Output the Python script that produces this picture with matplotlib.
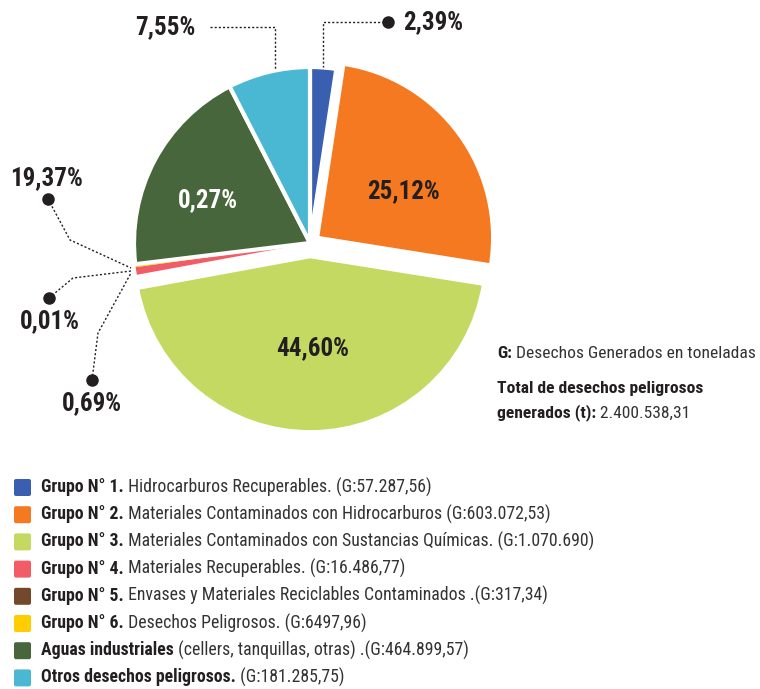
import matplotlib
matplotlib.use("Agg")
import matplotlib.pyplot as plt
from matplotlib import font_manager
from matplotlib.patches import FancyBboxPatch

# data
groups = ["Grupo N° 1.", "Grupo N° 2.", "Grupo N° 3.", "Grupo N° 4.", "Grupo N° 5.",
          "Grupo N° 6.", "Aguas industriales", "Otros desechos peligrosos."]
descriptions = [" Hidrocarburos Recuperables. (G:57.287,56)",
                " Materiales Contaminados con Hidrocarburos (G:603.072,53)",
                " Materiales Contaminados con Sustancias Químicas. (G:1.070.690)",
                " Materiales Recuperables. (G:16.486,77)",
                " Envases y Materiales Reciclables Contaminados .(G:317,34)",
                " Desechos Peligrosos. (G:6497,96)",
                " (cellers, tanquillas, otras) .(G:464.899,57)",
                " (G:181.285,75)"]
shares = [2.39, 25.12, 44.60, 0.69, 0.01, 0.27, 19.37, 7.55]
labels = ["2,39%", "25,12%", "44,60%", "0,69%", "0,01%", "0,27%", "19,37%", "7,55%"]
colors = ["#3a5fb0", "#f47920", "#c3d961", "#f25c66", "#74482a", "#ffcc00", "#48663c", "#4ab8d3"]
explode = [0, 0.05, 0.075, 0, 0, 0, 0, 0]

available = {f.name for f in font_manager.fontManager.ttflist}
family = "DejaVu Sans"
for name in ["Roboto Condensed", "Liberation Sans Narrow", "Roboto", "Liberation Sans"]:
    if name in available:
        family = name
        break
plt.rcParams["font.family"] = [family, "DejaVu Sans"]

W, H = 760, 689
fig = plt.figure(figsize=(W / 100, H / 100), dpi=100)
ax = fig.add_axes([0, 0, 1, 1])
ax.set_xlim(0, W)
ax.set_ylim(H, 0)
ax.axis("off")
ax.set_zorder(2)

# pie drawn in its own axes placed in pixel space
cx, cy, r = 310, 243, 176
pax = fig.add_axes([(cx - r) / W, 1 - (cy + r) / H, 2 * r / W, 2 * r / H])
wedges, _ = pax.pie(shares, colors=colors, startangle=90, counterclock=False, explode=explode,
                    radius=1, wedgeprops=dict(edgecolor="white", linewidth=3))
for w, s in zip(wedges, shares):
    if s < 1:
        w.set_linewidth(0)
pax.set_xlim(-1, 1)
pax.set_ylim(-1, 1)
pax.set_aspect("equal")
pax.axis("off")
pax.set_zorder(1)

dark = "#231f20"
big = dict(fontsize=18, fontweight="bold", ha="center", va="center")

# labels inside slices
ax.text(404, 191, labels[1], color=dark, **big)
ax.text(313, 348, labels[2], color=dark, **big)
ax.text(208, 200, labels[5], color="white", **big)

dots = dict(color=dark, linestyle=(0, (1.5, 1.5)), linewidth=1)

# callouts
ax.plot([388, 323, 323], [22, 22, 67], **dots)
ax.plot(388, 22, "o", color=dark, markersize=8)
ax.text(403, 22, labels[0], color=dark, ha="left", va="center", fontsize=18, fontweight="bold")

ax.plot([210, 275, 275], [27, 27, 70], **dots)
ax.text(195, 27, labels[7], color=dark, ha="right", va="center", fontsize=18, fontweight="bold")

ax.plot([48, 70, 131], [199, 240, 268], **dots)
ax.plot(48, 199, "o", color=dark, markersize=8)
ax.text(47, 178, labels[6], color=dark, ha="center", va="center", fontsize=18, fontweight="bold")

ax.plot([49, 73, 131], [298, 278, 271], **dots)
ax.plot(49, 298, "o", color=dark, markersize=8)
ax.text(50, 321, labels[4], color=dark, ha="center", va="center", fontsize=18, fontweight="bold")

ax.plot([92, 98, 131], [380, 333, 273], **dots)
ax.plot(92, 380, "o", color=dark, markersize=8)
ax.text(92, 403, labels[3], color=dark, ha="center", va="center", fontsize=18, fontweight="bold")

fig.canvas.draw()
renderer = fig.canvas.get_renderer()


def two_part(x, y, bold, regular, size):
    t = ax.text(x, y, bold, fontsize=size, fontweight="bold", color=dark, ha="left", va="center")
    bb = t.get_window_extent(renderer=renderer)
    x2 = x + bb.width
    ax.text(x2, y, regular, fontsize=size, color="#333333", ha="left", va="center")


# note on the right
two_part(497, 353, "G:", " Desechos Generados en toneladas", 12.6)
ax.text(497, 389, "Total de desechos peligrosos", fontsize=12.6, fontweight="bold",
        color=dark, ha="left", va="center")
two_part(497, 413, "generados (t):", " 2.400.538,31", 12.6)

# legend
for i in range(len(groups)):
    y = 487 + 27.2 * i
    box = FancyBboxPatch((14, y - 8), 17, 17, boxstyle="round,pad=0,rounding_size=2",
                         facecolor=colors[i], edgecolor="none")
    ax.add_patch(box)
    two_part(41, y, groups[i], descriptions[i], 12.8)

fig.savefig("out.png", dpi=100)
